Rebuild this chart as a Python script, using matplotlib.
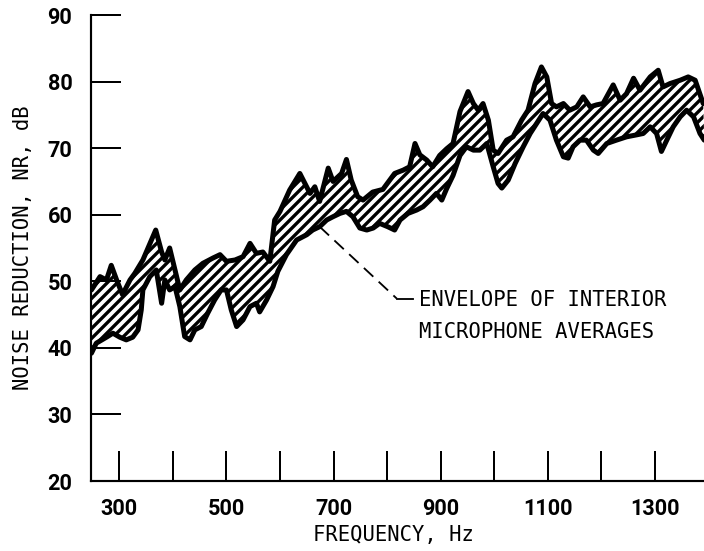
import numpy as np
import matplotlib
matplotlib.use("Agg")
import matplotlib.pyplot as plt

# ---------------- data ----------------
upper_f = [248, 264, 276, 285, 295, 306, 320, 329, 344, 360, 368, 379, 385, 394,
           413, 425, 441, 456, 475, 488, 500, 516, 531, 544, 556, 568, 581, 590,
           600, 618, 637, 656, 665, 674, 690, 699, 715, 724, 733, 745, 755, 773,
           792, 814, 830, 842, 852, 861, 874, 885, 898, 911, 923, 936, 951, 961,
           970, 979, 989, 998, 1007, 1023, 1035, 1051, 1063, 1076, 1088, 1098,
           1107, 1116, 1129, 1141, 1154, 1166, 1179, 1191, 1203, 1222, 1235, 1247,
           1260, 1272, 1291, 1306, 1315, 1328, 1347, 1362, 1375, 1390]
upper_db = [48.7, 50.7, 50.2, 52.4, 50.2, 48.0, 50.2, 51.2, 53.2, 56.2, 57.7, 54.4, 53.2, 55.0,
            48.7, 50.2, 51.7, 52.7, 53.5, 54.0, 53.0, 53.2, 53.7, 55.7, 54.2, 54.4, 53.0, 59.2,
            60.5, 63.7, 66.2, 63.2, 64.2, 62.0, 67.0, 65.0, 66.2, 68.3, 65.2, 62.7, 62.2, 63.4,
            63.8, 66.2, 66.7, 67.2, 70.7, 69.0, 68.2, 67.2, 68.9, 69.9, 70.7, 75.5, 78.5, 76.7,
            75.7, 76.7, 74.2, 69.7, 69.2, 71.2, 71.7, 74.2, 75.7, 79.7, 82.2, 80.7,
            76.7, 76.2, 76.7, 75.7, 76.2, 77.7, 76.2, 76.5, 76.7, 79.5, 77.2, 78.2,
            80.5, 78.7, 80.7, 81.7, 79.2, 79.7, 80.2, 80.7, 80.2, 76.7]

lower_f = [248, 257, 276, 288, 301, 313, 325, 335, 341, 344, 357, 369, 379, 385,
           394, 404, 413, 422, 432, 441, 453, 465, 478, 490, 500, 509, 519, 531,
           544, 556, 562, 575, 587, 596, 612, 631, 650, 661, 674, 687, 699, 712,
           724, 736, 749, 762, 774, 786, 801, 814, 824, 839, 855, 867, 880, 892,
           902, 911, 923, 936, 948, 961, 973, 986, 998, 1007, 1014, 1026, 1039,
           1054, 1067, 1079, 1091, 1104, 1116, 1129, 1138, 1147, 1160, 1172, 1185,
           1194, 1210, 1228, 1247, 1266, 1278, 1291, 1303, 1312, 1322, 1334, 1347,
           1359, 1372, 1384, 1392]
lower_db = [39.2, 40.7, 41.6, 42.2, 41.6, 41.2, 41.6, 42.7, 45.7, 48.7, 50.7, 51.7, 46.7, 50.2,
            48.7, 49.2, 46.2, 41.7, 41.2, 42.7, 43.2, 45.2, 47.2, 48.7, 48.7, 45.7, 43.2, 44.2,
            46.2, 46.7, 45.4, 47.2, 49.2, 51.5, 54.0, 56.2, 57.0, 57.7, 58.2, 59.2, 59.7, 60.2,
            60.5, 59.7, 58.0, 57.7, 58.0, 58.7, 58.2, 57.7, 59.2, 60.2, 60.7, 61.2, 62.2, 63.2,
            62.2, 63.9, 65.9, 68.9, 70.2, 69.7, 69.7, 70.7, 67.2, 64.7, 64.0, 65.2, 67.7,
            70.2, 72.2, 73.7, 75.2, 74.2, 71.2, 68.7, 68.5, 70.2, 71.2, 71.2, 69.7,
            69.2, 70.7, 71.2, 71.7, 72.0, 72.2, 73.2, 72.2, 69.5, 71.2, 73.2, 74.7,
            75.7, 74.7, 72.2, 71.2]

x_ticks = [300, 400, 500, 600, 700, 800, 900, 1000, 1100, 1200, 1300]
x_labels = ["300", "", "500", "", "700", "", "900", "", "1100", "", "1300"]
y_ticks = [20, 30, 40, 50, 60, 70, 80, 90]
y_labels = ["20", "30", "40", "50", "60", "70", "80", "90"]

note_lines = ["ENVELOPE OF INTERIOR", "MICROPHONE AVERAGES"]
x_title = "FREQUENCY, Hz"
y_title = "NOISE REDUCTION, NR, dB"

# ---------------- figure ----------------
DPI = 120
W, H = 704, 551
plt.rcParams['hatch.linewidth'] = 2.0
fig = plt.figure(figsize=(W / DPI, H / DPI), dpi=DPI)
ax = fig.add_axes([90.7 / W, (H - 481) / H, (W - 90.7) / W, (481 - 15) / H])
ax.set_xlim(246.6, 1391.5)
ax.set_ylim(20, 90)

uf = np.array(upper_f); ud = np.array(upper_db)
lf = np.array(lower_f); ld = np.array(lower_db)
poly_x = np.concatenate([uf, lf[::-1]])
poly_y = np.concatenate([ud, ld[::-1]])
ax.fill(poly_x, poly_y, fill=False, hatch='////', edgecolor='black', linewidth=0)
ax.plot(uf, ud, color='black', lw=3.0, solid_joinstyle='round', solid_capstyle='round')
ax.plot(lf, ld, color='black', lw=3.0, solid_joinstyle='round', solid_capstyle='round')

# spines
for s in ['top', 'right']:
    ax.spines[s].set_visible(False)
for s in ['left', 'bottom']:
    ax.spines[s].set_linewidth(1.3)

tick_font = dict(family=['Roboto', 'DejaVu Sans'], size=13, weight='bold')
ax.set_xticks(x_ticks)
ax.set_xticklabels(x_labels, **tick_font)
ax.set_yticks(y_ticks)
ax.set_yticklabels(y_labels, **tick_font)
ax.tick_params(axis='both', direction='in', length=18, width=1.2, color='black')
ax.tick_params(axis='x', pad=10)
ax.tick_params(axis='y', pad=11)

mono = dict(family=['DejaVu Sans Mono'], size=12.3)
fig.text(393 / W, 1 - 535 / H, x_title, ha='center', va='center', **mono)
fig.text(23 / W, 1 - 248 / H, y_title, ha='center', va='center', rotation=90, **mono)

# annotation leader
ax.plot([674, 818], [58.2, 47.4], color='black', lw=1.1, dashes=(7, 4))
ax.plot([818, 849], [47.4, 47.4], color='black', lw=1.1)
ax.text(859, 47.2, note_lines[0], ha='left', va='center', **mono)
ax.text(859, 42.4, note_lines[1], ha='left', va='center', **mono)

fig.savefig('out.png', dpi=DPI)
